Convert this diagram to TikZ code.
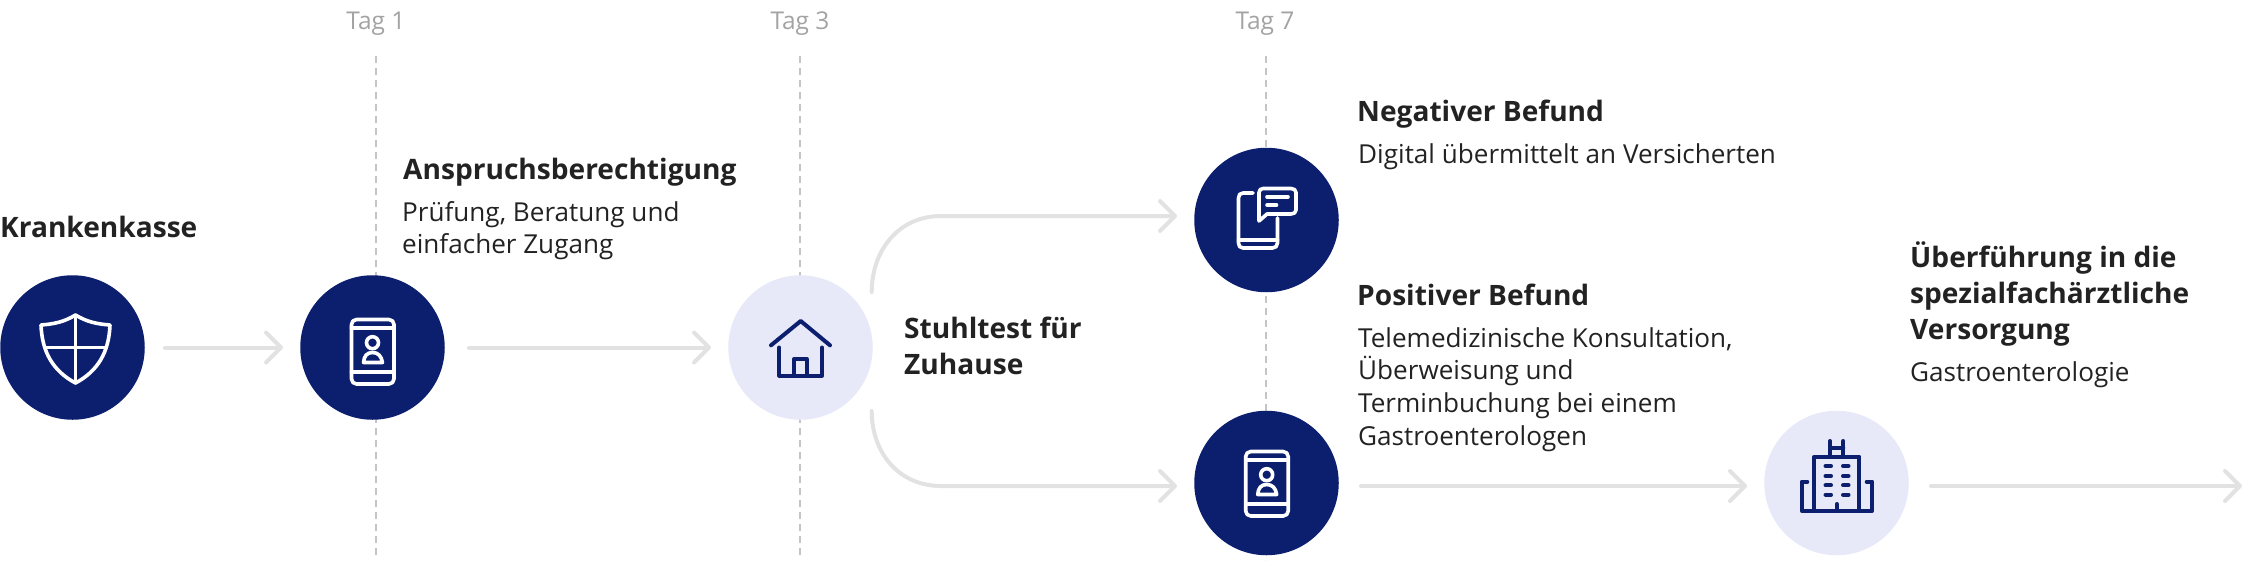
\documentclass[tikz,border=0pt]{standalone}
\usepackage{fontspec}
\setmainfont{Open Sans}
\usetikzlibrary{arrows.meta}
\definecolor{navy}{HTML}{0C1F6E}
\definecolor{pale}{HTML}{E7E9F8}
\definecolor{arrowgrey}{HTML}{E2E2E2}
\definecolor{dashgrey}{HTML}{C4C4C4}
\definecolor{tagtext}{HTML}{A3A3A3}
\definecolor{ink}{HTML}{222222}
\tikzset{
  x=1pt,y=-1pt,
  dark/.style={circle,fill=navy,draw=none,minimum size=144.5pt,inner sep=0pt},
  light/.style={circle,fill=pale,draw=none,minimum size=144.5pt,inner sep=0pt},
  flow/.style={draw=arrowgrey,line width=4pt,line cap=round,-{Straight Barb[length=15pt,width=30pt,line width=4pt,round]}},
  dayline/.style={draw=dashgrey,line width=2pt,dash pattern=on 7pt off 5pt},
  taglabel/.style={text=tagtext,font=\fontsize{24.5}{27}\selectfont,inner sep=0pt,anchor=base},
  head/.style={text=ink,font=\fontsize{28.1}{36}\selectfont\bfseries,inner sep=0pt,anchor=north west,align=left},
  body/.style={text=ink,font=\fontsize{26.1}{32.8}\selectfont,inner sep=0pt,anchor=north west,align=left},
  iconw/.style={draw=white,line width=3.6pt,line cap=round,line join=round},
  iconn/.style={draw=navy,line width=4pt,line cap=round,line join=round},
}
\begin{document}
\begin{tikzpicture}
\useasboundingbox (0,0) rectangle (2268,560);
% day labels and lines
\node[taglabel] (t1) at (376,29) {Tag 1};
\node[taglabel] (t3) at (800,29) {Tag 3};
\node[taglabel] (t7) at (1265,29) {Tag 7};
\coordinate (b1) at (376,560);
\coordinate (b3) at (799.5,560);
\coordinate (b7) at (1266,560);
\coordinate (a1) at (376,56);
\coordinate (a3) at (799.5,56);
\coordinate (a7) at (1266,56);
\draw[dayline] (a1) -- (b1);
\draw[dayline] (a3) -- (b3);
\draw[dayline] (a7) -- (b7);
% circles
\node[dark]  (c1) at (72.5,347.5) {};
\node[dark]  (c2) at (372.5,347.5) {};
\node[light] (c3) at (800.5,347.5) {};
\node[dark]  (c4) at (1266.5,220) {};
\node[dark]  (c5) at (1266.5,483) {};
\node[light] (c6) at (1836.5,483) {};
% connectors
\coordinate (u0) at (871.7,292);
\coordinate (u1) at (1177,216);
\coordinate (l0) at (871.7,411);
\coordinate (l1) at (1177,486);
\coordinate (h5) at (1361,486);
\coordinate (h6) at (1747,486);
\coordinate (h7) at (1931,486);
\coordinate (h8) at (2242,486);
\draw[flow,shorten <=20pt,shorten >=17pt] (c1.east) -- (c2.west);
\draw[flow,shorten <=24pt,shorten >=17pt] (c2.east) -- (c3.west);
\draw[flow] (u0) .. controls (871.7,250) and (899,216) .. (941,216) -- (u1);
\draw[flow] (l0) .. controls (871.7,453) and (899,486) .. (941,486) -- (l1);
\draw[flow] (h5) -- (h6);
\draw[flow] (h7) -- (h8);
% shield
\draw[iconw] (75.5,315) .. controls (64,322) and (54,324) .. (41,325) .. controls (42,352) and (53,371) .. (75.5,383) .. controls (98,371) and (109,352) .. (110,325) .. controls (97,324) and (87,322) .. (75.5,315) -- cycle;
\draw[iconw,line width=3pt] (75.5,315) -- (75.5,383);
\draw[iconw,line width=3pt] (46,347.7) -- (105,347.7);
% person phone (twice)
\foreach \dx/\dy in {0/0,894.2/132}{
\begin{scope}[shift={(\dx,\dy)}]
  \draw[iconw,rounded corners=5pt] (351.5,319.5) rectangle (394,384);
  \draw[iconw] (351.5,328) -- (394,328);
  \draw[iconw] (351.5,372) -- (394,372);
  \draw[iconw] (372.5,342.7) circle (6pt);
  \draw[iconw] (363.5,362.5) .. controls (364,356) and (367,352.5) .. (372.5,352.5) .. controls (378,352.5) and (381.5,356) .. (382.5,362.5) -- cycle;
\end{scope}}
% message phone
\draw[iconw] (1253,193) -- (1243,193) .. controls (1240,193) and (1238.5,195) .. (1238.5,198) -- (1238.5,243) .. controls (1238.5,246) and (1240,248) .. (1243,248) -- (1272.5,248) .. controls (1275.5,248) and (1277.5,246) .. (1277.5,243) -- (1277.5,218);
\draw[iconw] (1238.5,240) -- (1277.5,240);
\draw[iconw] (1259,221) -- (1259,192.5) .. controls (1259,190) and (1261,188.5) .. (1263,188.5) -- (1291,188.5) .. controls (1294,188.5) and (1296,190) .. (1296,192.5) -- (1296,210) .. controls (1296,212.5) and (1294,214) .. (1291,214) -- (1267,214) -- cycle;
\draw[iconw] (1267,196.7) -- (1288,196.7);
\draw[iconw] (1267,205) -- (1276.5,205);
% house
\draw[iconn] (771,345.3) -- (800.7,321) -- (830,345.3);
\draw[iconn] (779.3,347.5) -- (779.3,375.7) -- (822,375.7) -- (822,347.5);
\draw[iconn] (794.3,375.7) -- (794.3,359) -- (806.7,359) -- (806.7,375.7);
% hospital
\draw[iconn] (1814.3,510.7) -- (1814.3,456.7) -- (1859.3,456.7) -- (1859.3,510.7);
\draw[iconn] (1807.3,481.7) -- (1801.7,481.7) -- (1801.7,510.7) -- (1872.3,510.7) -- (1872.3,481.7) -- (1866.7,481.7);
\draw[iconn] (1830,441) -- (1830,456.7);
\draw[iconn] (1843.3,441) -- (1843.3,456.7);
\draw[iconn] (1830,447.5) -- (1843.3,447.5);
\draw[iconn] (1836.7,504) -- (1836.7,510.7);
\foreach \wy in {466,476,485.3,494.7}{
  \draw[iconn] (1825.5,\wy) -- (1831,\wy);
  \draw[iconn] (1843,\wy) -- (1848.5,\wy);
}
% texts
\node[head] (n1) at (0,216) {Krankenkasse};
\node[head] (n2) at (403,158) {Anspruchsberechtigung};
\node[body] (n3) at (402,201) {Prüfung, Beratung und\\einfacher Zugang};
\node[head] (n4) at (904,317) {Stuhltest für\\Zuhause};
\node[head] (n5) at (1357,100) {Negativer Befund};
\node[body] (n6) at (1358,143) {Digital übermittelt an Versicherten};
\node[head] (n7) at (1357,284) {Positiver Befund};
\node[body] (n8) at (1358,327) {Telemedizinische Konsultation,\\Überweisung und\\Terminbuchung bei einem\\Gastroenterologen};
\node[head] (n9) at (1910,242) {Überführung in die\\spezialfachärztliche\\Versorgung};
\node[body] (n10) at (1910,361) {Gastroenterologie};
\end{tikzpicture}
\end{document}
